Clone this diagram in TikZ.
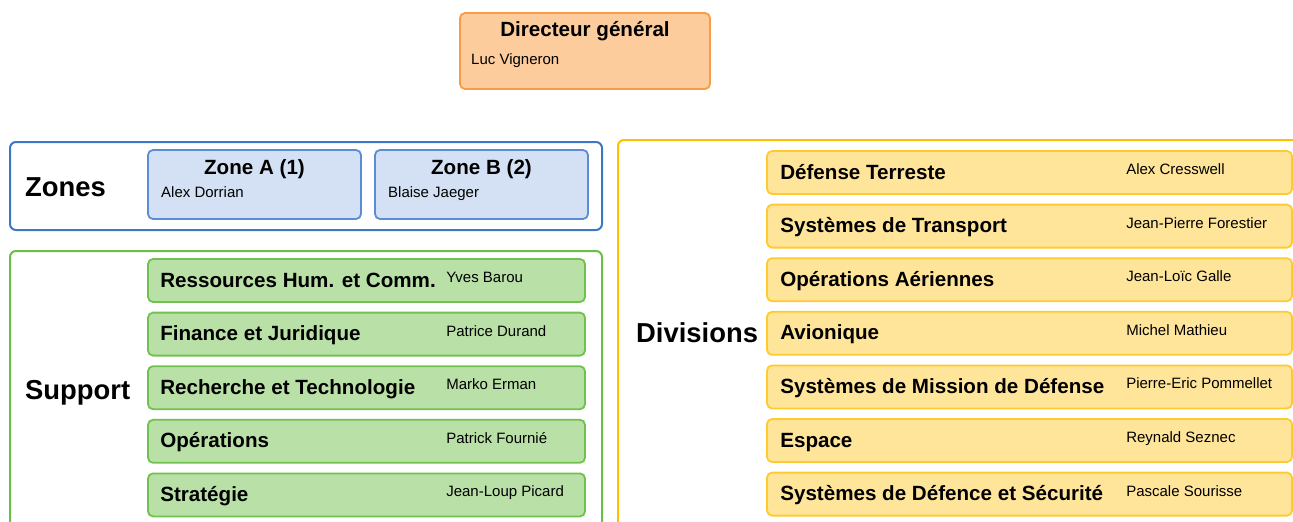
\documentclass[tikz,border=0pt]{standalone}
\usepackage{fontspec}
\setmainfont{Liberation Sans}
\usetikzlibrary{positioning}
\definecolor{dirfill}{HTML}{FDCC9D}
\definecolor{dirline}{HTML}{F89C45}
\definecolor{zoneline}{HTML}{3D78C6}
\definecolor{zonefill}{HTML}{D4E1F4}
\definecolor{zoneedge}{HTML}{5C8CD4}
\definecolor{supline}{HTML}{6CBE47}
\definecolor{supfill}{HTML}{B9E0A6}
\definecolor{supedge}{HTML}{70C24F}
\definecolor{divline}{HTML}{FFC000}
\definecolor{divfill}{HTML}{FFE59A}
\definecolor{divedge}{HTML}{FFCA30}
\begin{document}
\begin{tikzpicture}[x=1pt, y=-1pt,
  box/.style={draw, line width=1.8pt, rounded corners=5pt, inner sep=0pt, minimum height=43pt, minimum width=#1},
  box/.default=437pt,
  group/.style={draw, line width=2pt, rounded corners=6pt, inner sep=0pt},
  ttl/.style={font=\bfseries\fontsize{20.6}{24}\selectfont, inner sep=0pt},
  nm/.style={font=\fontsize{15}{18}\selectfont, inner sep=0pt},
  big/.style={font=\bfseries\fontsize{27.4}{32}\selectfont, inner sep=0pt}]
\clip (0,0) rectangle (1293,522);
% top
\node[box=250pt, minimum height=76pt, fill=dirfill, draw=dirline] (dg) at (585,51) {};
\node[ttl, anchor=base] (dgt) at (585,36) {Directeur général};
\node[nm, anchor=base west] (dgn) at (471,64) {Luc Vigneron};
% zones
\node[group, draw=zoneline, minimum width=592pt, minimum height=88pt] (zones) at (306,186) {};
\node[big, anchor=base west] (zl) at (25,196) {Zones};
\node[box=213pt, minimum height=69pt, fill=zonefill, draw=zoneedge] (za) at (254.5,184.5) {};
\node[box=213pt, minimum height=69pt, fill=zonefill, draw=zoneedge] (zb) at (481.5,184.5) {};
\node[ttl, anchor=base] (zat) at (254.5,174) {Zone A (1)};
\node[ttl, anchor=base] (zbt) at (481.5,174) {Zone B (2)};
\node[nm, anchor=base west] (zan) at (161,197) {Alex Dorrian};
\node[nm, anchor=base west] (zbn) at (388,197) {Blaise Jaeger};
% support
\node[group, draw=supline, minimum width=592pt, minimum height=320pt] (sup) at (306,411) {};
\node[big, anchor=base west] (sl) at (25,399) {Support};
\foreach \t/\n [count=\i] in {Ressources Hum. et Comm./Yves Barou, Finance et Juridique/Patrice Durand,
    Recherche et Technologie/Marko Erman, Opérations/Patrick Fournié, Stratégie/Jean-Loup Picard} {
  \pgfmathsetmacro\y{280.5+(\i-1)*53.6}
  \node[box, fill=supfill, draw=supedge] (s\i) at (366.5,\y) {};
  \node[ttl, anchor=base west] (s\i t) at ([shift={(13,6.5)}]s\i.west) {\t};
  \node[nm, anchor=base west] (s\i n) at ([shift={(299,2)}]s\i.west) {\n};
}
% divisions
\node[group, draw=divline, minimum width=700pt, minimum height=420pt] (div) at (968,350) {};
\node[big, anchor=base west] (dl) at (636,342) {Divisions};
\foreach \t/\n [count=\i] in {Défense Terreste/Alex Cresswell, Systèmes de Transport/Jean-Pierre Forestier,
    Opérations Aériennes/Jean-Loïc Galle, Avionique/Michel Mathieu,
    Systèmes de Mission de Défense/Pierre-Eric Pommellet, Espace/Reynald Seznec,
    Systèmes de Défence et Sécurité/Pascale Sourisse} {
  \pgfmathsetmacro\y{172.5+(\i-1)*53.6}
  \node[box=525pt, fill=divfill, draw=divedge] (d\i) at (1029.5,\y) {};
  \node[ttl, anchor=base west] (d\i t) at ([shift={(14,6.5)}]d\i.west) {\t};
  \node[nm, anchor=base west] (d\i n) at ([shift={(360,2)}]d\i.west) {\n};
}
\end{tikzpicture}
\end{document}
